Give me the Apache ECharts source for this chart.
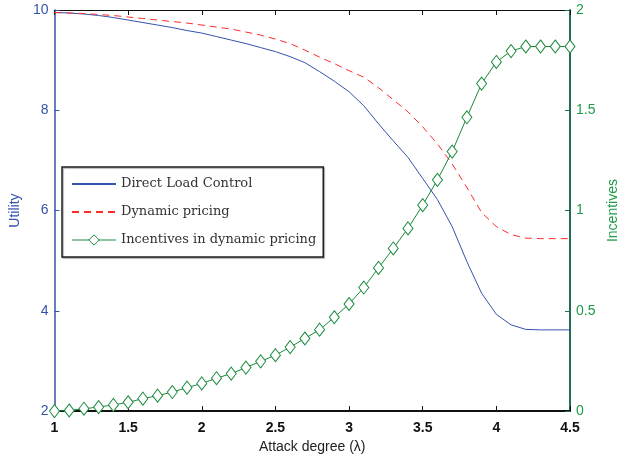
<!DOCTYPE html>
<html>
<head>
<meta charset="utf-8">
<script src="https://cdn.jsdelivr.net/npm/echarts@6/dist/echarts.min.js"></script>
<style>html,body{margin:0;padding:0;background:#fff}#c{width:630px;height:459px}</style>
</head>
<body>
<div id="c"></div>
<script>
const lambdas = [1.0,1.1,1.2,1.3,1.4,1.5,1.6,1.7,1.8,1.9,2.0,2.1,2.2,2.3,2.4,2.5,2.6,2.7,2.8,2.9,3.0,3.1,3.2,3.3,3.4,3.5,3.6,3.7,3.8,3.9,4.0,4.1,4.2,4.3,4.4,4.5];
const directLoadControl = [9.95,9.94,9.92,9.89,9.85,9.80,9.75,9.70,9.65,9.59,9.54,9.47,9.40,9.33,9.25,9.17,9.07,8.95,8.77,8.58,8.37,8.09,7.73,7.39,7.06,6.64,6.22,5.68,4.98,4.35,3.93,3.72,3.63,3.62,3.62,3.62];
const dynamicPricing = [9.95,9.94,9.93,9.91,9.89,9.86,9.83,9.80,9.77,9.74,9.70,9.66,9.62,9.56,9.50,9.42,9.33,9.20,9.06,8.93,8.79,8.66,8.45,8.21,7.97,7.67,7.33,6.93,6.46,5.96,5.68,5.52,5.45,5.44,5.44,5.44];
const incentives = [0,0.003,0.012,0.02,0.031,0.044,0.062,0.077,0.095,0.117,0.138,0.164,0.187,0.217,0.248,0.279,0.319,0.362,0.406,0.468,0.534,0.616,0.714,0.811,0.911,1.027,1.153,1.294,1.465,1.633,1.741,1.795,1.818,1.818,1.818,1.818];
const seriesNames = ['Direct Load Control','Dynamic pricing','Incentives in dynamic pricing'];
const xTitle = 'Attack degree (\u03bb)';
const yLeftTitle = 'Utility';
const yRightTitle = 'Incentives';

const pairs = (ys) => lambdas.map((x, i) => [x, ys[i]]);
const BLUE = '#3553ad', RED = '#ff2a2a', GREEN = '#1a8a3c', GREEN_AX = '#1f6f55', GREEN_TXT = '#1f9a4a';
const FONT = 'Liberation Sans';

const chart = echarts.init(document.getElementById('c'), null, {renderer: 'canvas'});
chart.setOption({
  animation: false,
  backgroundColor: '#fff',
  grid: {left: 54, right: 60, top: 10, bottom: 43, show: false},
  legend: {
    orient: 'vertical', left: 62, top: 167,
    padding: [9, 7, 9, 9],
    itemWidth: 44, itemHeight: 13, itemGap: 12,
    backgroundColor: '#fff', borderColor: '#222', borderWidth: 1.5,
    shadowColor: 'rgba(0,0,0,0.35)', shadowOffsetX: 1, shadowOffsetY: 1, shadowBlur: 1,
    textStyle: {fontFamily: 'DejaVu Serif', fontSize: 13, lineHeight: 16, color: '#333'},
    data: [
      {name: seriesNames[0], itemStyle: {opacity: 0}},
      {name: seriesNames[1], itemStyle: {opacity: 0}},
      {name: seriesNames[2], lineStyle: {width: 1},
       itemStyle: {color: '#fff', borderColor: GREEN, borderWidth: 1}}
    ]
  },
  xAxis: [{
    type: 'value', min: 1, max: 4.5, interval: 0.5, position: 'bottom',
    name: xTitle, nameLocation: 'middle', nameGap: 25,
    nameTextStyle: {fontFamily: FONT, fontSize: 14, color: '#222'},
    axisLine: {show: true, lineStyle: {color: '#111', width: 2}},
    axisTick: {show: true, inside: true, length: 5, lineStyle: {color: '#111'}},
    axisLabel: {fontFamily: FONT, fontSize: 14, fontWeight: 'bold', color: '#111', margin: 10,
      formatter: v => String(v)},
    splitLine: {show: false}
  }, {
    type: 'value', min: 1, max: 4.5, interval: 0.5, position: 'top',
    axisLine: {show: true, lineStyle: {color: '#111', width: 1.2}},
    axisTick: {show: true, inside: true, length: 5, lineStyle: {color: '#111'}},
    axisLabel: {show: false}, splitLine: {show: false}
  }],
  yAxis: [{
    type: 'value', min: 2, max: 10, interval: 2, position: 'left',
    name: yLeftTitle, nameLocation: 'middle', nameGap: 31,
    nameTextStyle: {fontFamily: FONT, fontSize: 14, color: BLUE},
    axisLine: {show: true, lineStyle: {color: BLUE, width: 1.5}},
    axisTick: {show: true, inside: true, length: 5, lineStyle: {color: BLUE}},
    axisLabel: {fontFamily: FONT, fontSize: 14, color: BLUE, margin: 6},
    splitLine: {show: false}
  }, {
    type: 'value', min: 0, max: 2, interval: 0.5, position: 'right',
    name: yRightTitle, nameLocation: 'middle', nameGap: 30,
    nameTextStyle: {fontFamily: FONT, fontSize: 14, color: GREEN_TXT},
    axisLine: {show: true, lineStyle: {color: GREEN_AX, width: 2}},
    axisTick: {show: true, inside: true, length: 5, lineStyle: {color: GREEN_AX}},
    axisLabel: {fontFamily: FONT, fontSize: 14, color: GREEN_TXT, margin: 6},
    splitLine: {show: false}
  }],
  series: [{
    name: seriesNames[0], type: 'line', xAxisIndex: 0, yAxisIndex: 0,
    data: pairs(directLoadControl), showSymbol: false, symbol: 'none',
    lineStyle: {color: BLUE, width: 1}, itemStyle: {color: BLUE}
  }, {
    name: seriesNames[1], type: 'line', xAxisIndex: 0, yAxisIndex: 0,
    data: pairs(dynamicPricing), showSymbol: false, symbol: 'none',
    lineStyle: {color: RED, width: 1, type: [7, 5]}, itemStyle: {color: RED}
  }, {
    name: seriesNames[2], type: 'line', xAxisIndex: 0, yAxisIndex: 1,
    data: pairs(incentives), symbol: 'diamond', symbolSize: [10, 13],
    lineStyle: {color: GREEN, width: 1},
    itemStyle: {color: '#fff', borderColor: GREEN, borderWidth: 1}
  }]
});
</script>
</body>
</html>
